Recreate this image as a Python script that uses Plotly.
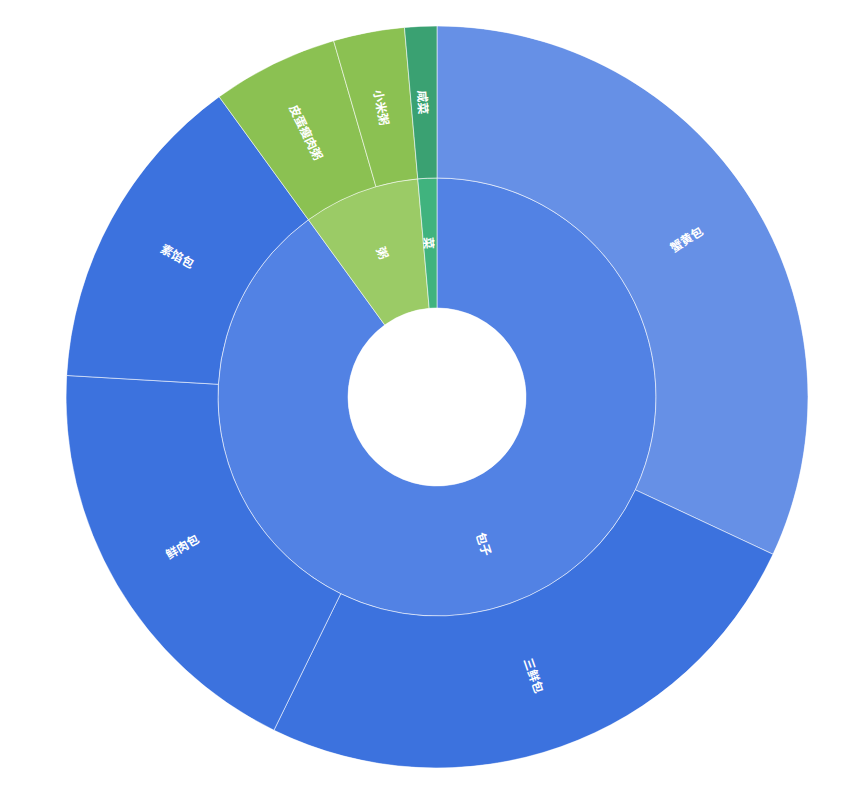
import math
import plotly.graph_objects as go

# ---- data ----
inner_labels = ["包子", "粥", "菜"]
outer_labels = ["蟹黄包", "三鲜包", "鲜肉包", "素馅包", "皮蛋瘦肉粥", "小米粥", "咸菜"]
outer_parents = ["包子", "包子", "包子", "包子", "粥", "粥", "菜"]
outer_values = [320, 253, 187, 141, 55, 31, 14]

inner_colors = {"包子": "#5282e4", "粥": "#9bcb66", "菜": "#40b37e"}
outer_colors = ["#6690e6", "#3c72de", "#3c72de", "#3c72de", "#8bc152", "#8bc152", "#3aa172"]

inner_values = [sum(v for v, p in zip(outer_values, outer_parents) if p == l) for l in inner_labels]
total = sum(outer_values)

W, H = 848, 811
CX, CY, R = 437, 397, 371
HOLE = 89
R1 = 219  # inner ring outer radius (px)
ring1 = R1 - HOLE
ring2 = R - R1


def spans(values):
    out, acc = [], 0
    for v in values:
        w = v / total * 360
        out.append((acc + w / 2, w))
        acc += w
    return out

inner_sp = spans(inner_values)
outer_sp = spans(outer_values)

line_style = dict(color="rgba(255,255,255,0.55)", width=1)

fig = go.Figure()
fig.add_trace(go.Barpolar(
    theta=[s[0] for s in inner_sp], width=[s[1] for s in inner_sp],
    r=[ring1] * len(inner_labels), base=[0] * len(inner_labels),
    marker=dict(color=[inner_colors[l] for l in inner_labels], line=line_style),
    text=inner_labels, hoverinfo="text", showlegend=False,
))
fig.add_trace(go.Barpolar(
    theta=[s[0] for s in outer_sp], width=[s[1] for s in outer_sp],
    r=[ring2] * len(outer_labels), base=[ring1] * len(outer_labels),
    marker=dict(color=outer_colors, line=line_style),
    text=outer_labels, hoverinfo="text", showlegend=False,
))

annotations = []

def add_labels(labels, sp, rad):
    for lab, (th, w) in zip(labels, sp):
        x = CX + rad * math.sin(math.radians(th))
        y = CY - rad * math.cos(math.radians(th))
        ang = th - 90 if th <= 180 else th - 270
        annotations.append(dict(
            x=x / W, y=1 - y / H, xref="paper", yref="paper", text=lab,
            showarrow=False, textangle=ang,
            font=dict(family="Noto Sans CJK SC", size=12, color="white", weight="bold"),
            xanchor="center", yanchor="middle"))

add_labels(inner_labels, inner_sp, (HOLE + R1) / 2)
add_labels(outer_labels, outer_sp, (R1 + R) / 2)

fig.update_layout(
    width=W, height=H, margin=dict(l=0, r=0, t=0, b=0),
    paper_bgcolor="white", plot_bgcolor="white",
    polar=dict(
        domain=dict(x=[(CX - R) / W, (CX + R) / W], y=[1 - (CY + R) / H, 1 - (CY - R) / H]),
        hole=HOLE / R, bgcolor="white",
        radialaxis=dict(range=[0, ring1 + ring2], visible=False, showgrid=False),
        angularaxis=dict(direction="clockwise", rotation=90, visible=False, showgrid=False),
        barmode="overlay",
    ),
    annotations=annotations,
)

fig.write_html("out.html")
